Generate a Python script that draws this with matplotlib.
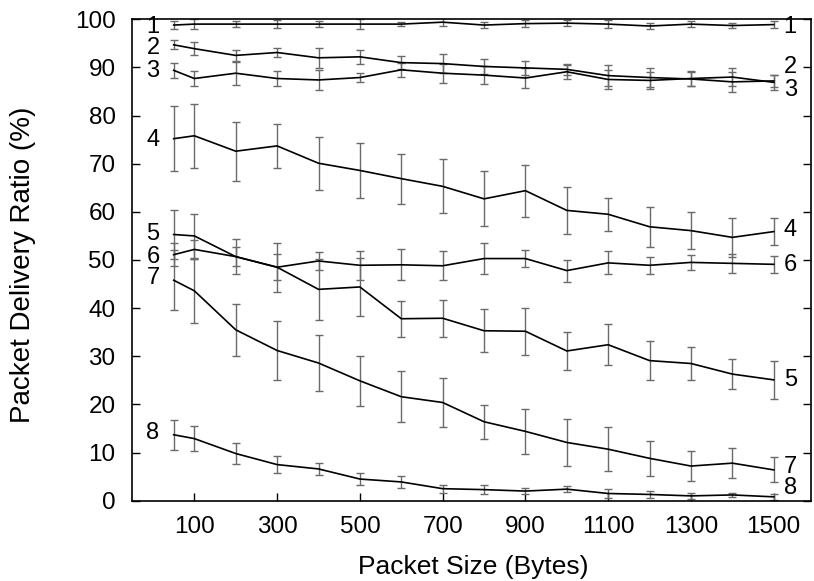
import matplotlib
matplotlib.use("Agg")
import matplotlib.pyplot as plt

plt.rcParams["font.family"] = ["Liberation Sans", "DejaVu Sans"]

sizes = [50, 100, 200, 300, 400, 500, 600, 700, 800, 900, 1000, 1100, 1200, 1300, 1400, 1500]

pdr1 = [98.8, 99.0, 99.0, 99.0, 99.0, 99.0, 99.0, 99.4, 98.8, 99.1, 99.2, 99.0, 98.6, 99.0, 98.7, 98.9]
err1 = [0.9, 1.0, 0.7, 0.8, 0.6, 1.0, 0.4, 0.8, 0.7, 0.8, 0.6, 0.8, 0.7, 0.7, 0.5, 0.8]
pdr2 = [94.7, 93.9, 92.5, 93.1, 92.0, 92.2, 91.0, 90.8, 90.2, 89.9, 89.6, 88.3, 87.9, 87.6, 87.0, 87.2]
err2 = [0.9, 1.3, 1.1, 0.9, 2.1, 1.5, 1.4, 2.0, 1.5, 1.5, 1.1, 2.2, 2.0, 1.5, 2.0, 1.3]
pdr3 = [89.4, 87.7, 88.8, 87.7, 87.4, 87.9, 89.5, 88.8, 88.4, 87.8, 89.1, 87.5, 87.3, 87.7, 88.0, 86.9]
err3 = [1.5, 1.6, 2.4, 1.5, 2.0, 1.0, 1.5, 2.0, 1.8, 2.1, 1.5, 2.0, 1.8, 1.5, 1.8, 1.5]
pdr4 = [75.2, 75.8, 72.6, 73.7, 70.1, 68.6, 66.9, 65.3, 62.7, 64.4, 60.3, 59.5, 56.9, 56.1, 54.7, 55.9]
err4 = [6.7, 6.6, 6.1, 4.6, 5.5, 5.7, 5.2, 5.6, 5.7, 5.4, 4.8, 3.4, 4.2, 3.8, 4.1, 2.8]
pdr5 = [55.3, 55.0, 50.7, 48.5, 43.9, 44.4, 37.8, 37.9, 35.3, 35.2, 31.1, 32.4, 29.1, 28.5, 26.3, 25.1]
err5 = [5.0, 4.6, 3.7, 5.1, 6.4, 6.0, 3.7, 3.8, 4.5, 4.9, 3.9, 4.3, 4.1, 3.5, 3.1, 4.0]
pdr6 = [51.1, 52.2, 50.7, 48.5, 49.8, 48.9, 49.0, 48.8, 50.3, 50.3, 47.8, 49.4, 48.9, 49.5, 49.3, 49.1]
err6 = [2.4, 1.9, 2.0, 2.7, 1.8, 3.0, 3.2, 3.0, 3.3, 1.7, 2.3, 2.4, 1.8, 1.5, 2.0, 1.8]
pdr7 = [45.8, 43.6, 35.5, 31.2, 28.6, 24.9, 21.6, 20.4, 16.4, 14.4, 12.1, 10.7, 8.8, 7.2, 7.8, 6.4]
err7 = [6.2, 6.7, 5.4, 6.2, 5.9, 5.2, 5.3, 5.0, 3.5, 4.6, 4.8, 4.6, 3.6, 3.2, 3.1, 2.6]
pdr8 = [13.7, 12.9, 9.8, 7.5, 6.6, 4.5, 3.9, 2.5, 2.3, 2.0, 2.4, 1.5, 1.3, 1.0, 1.2, 0.8]
err8 = [3.1, 2.6, 2.2, 1.7, 1.2, 1.3, 1.2, 0.8, 1.0, 0.7, 0.6, 1.0, 0.7, 0.6, 0.5, 0.6]

series = [pdr1, pdr2, pdr3, pdr4, pdr5, pdr6, pdr7, pdr8]
errors = [err1, err2, err3, err4, err5, err6, err7, err8]
names = ["1", "2", "3", "4", "5", "6", "7", "8"]

# curve labels: y position at the left and right ends
left_label_y = [98.3, 94.1, 89.3, 75.0, 55.3, 50.7, 46.3, 14.0]
right_label_y = [98.3, 90.0, 85.4, 56.3, 25.1, 49.0, 7.1, 2.6]

fig = plt.figure(figsize=(8.14, 5.81), dpi=100)
ax = fig.add_axes([0.1625, 0.1382, 0.8338, 0.8286])

for ys, es in zip(series, errors):
    ax.errorbar(sizes, ys, yerr=es, fmt="none", ecolor="#6a6a6a",
                elinewidth=1.0, capsize=3, capthick=1.0, zorder=2)
    ax.plot(sizes, ys, color="black", lw=1.2, zorder=3)

for name, yl, yr in zip(names, left_label_y, right_label_y):
    ax.text(0, yl, name, fontsize=17, ha="center", va="center")
    ax.text(1540, yr, name, fontsize=17, ha="center", va="center")

ax.set_xlim(-50, 1590)
ax.set_ylim(0, 100)
ax.set_xticks(range(100, 1600, 200))
ax.set_yticks(range(0, 101, 10))
ax.tick_params(axis="both", direction="in", labelsize=17.5, length=6, width=1,
               right=True, top=False)
ax.tick_params(axis="x", pad=11)
ax.tick_params(axis="y", pad=12)
for sp in ax.spines.values():
    sp.set_linewidth(1.2)

ax.set_xlabel("Packet Size (Bytes)", fontsize=19)
ax.set_ylabel("Packet Delivery Ratio (%)", fontsize=20)
ax.xaxis.set_label_coords(0.503, -0.112)
ax.yaxis.set_label_coords(-0.142, 0.49)

fig.savefig("out.png", dpi=100)
